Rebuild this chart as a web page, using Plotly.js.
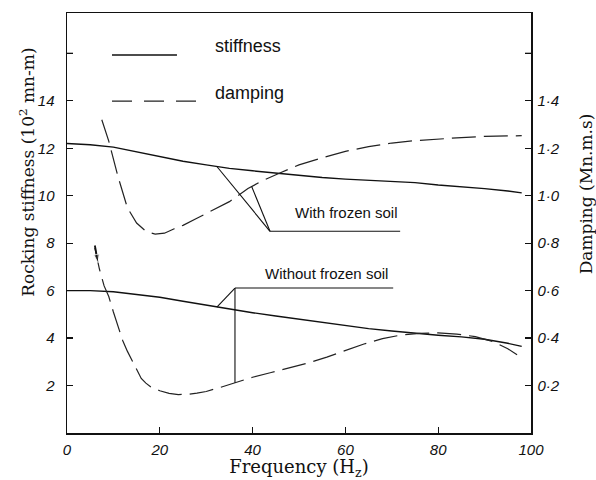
<!DOCTYPE html>
<html>
<head>
<meta charset="utf-8">
<script src="https://cdn.plot.ly/plotly-3.0.1.min.js"></script>
<style>
  html, body { margin: 0; padding: 0; background: #fff; }
  #chart { width: 596px; height: 480px; }
</style>
</head>
<body>
<div id="chart"></div>
<script>
// Rocking stiffness (10^2 MN·m) against frequency, sampled along each curve
const freqStiff = [0, 5, 10, 15, 20, 25, 30, 35, 40, 45, 50, 55, 60, 65, 70, 75, 80, 85, 90, 95, 98];
const stiffFrozen = [12.2, 12.15, 12.05, 11.85, 11.63, 11.45, 11.3, 11.15, 11.05, 10.95, 10.87, 10.77, 10.7, 10.65, 10.6, 10.55, 10.45, 10.38, 10.3, 10.2, 10.12];
const stiffUnfrozen = [6.0, 6.0, 5.95, 5.85, 5.72, 5.55, 5.38, 5.22, 5.07, 4.93, 4.8, 4.65, 4.52, 4.4, 4.3, 4.2, 4.12, 4.05, 3.95, 3.78, 3.65];

// Damping (MN·m·s) with frozen soil
const freqDampFrozen = [7.5, 9, 11, 13, 15, 17, 19, 21, 23, 25, 28, 31, 35, 39, 42, 46, 50, 55, 60, 65, 70, 75, 80, 85, 90, 95, 98];
const dampFrozen = [1.32, 1.23, 1.08, 0.95, 0.885, 0.85, 0.838, 0.842, 0.86, 0.875, 0.905, 0.935, 0.975, 1.03, 1.062, 1.097, 1.13, 1.16, 1.187, 1.207, 1.222, 1.232, 1.24, 1.245, 1.25, 1.252, 1.253];

// Damping (MN·m·s) without frozen soil
const freqDampUnfrozen = [6, 7, 8, 9, 10, 11, 12, 13, 14, 15, 16, 17, 18, 20, 22, 24, 26, 28, 30, 33, 36, 40, 44, 48, 52, 56, 60, 64, 68, 72, 76, 80, 84, 88, 92, 95, 97];
const dampUnfrozen = [0.78, 0.69, 0.62, 0.575, 0.51, 0.445, 0.39, 0.345, 0.305, 0.265, 0.23, 0.21, 0.195, 0.178, 0.167, 0.162, 0.163, 0.168, 0.175, 0.192, 0.21, 0.235, 0.255, 0.275, 0.295, 0.32, 0.348, 0.375, 0.398, 0.413, 0.42, 0.422, 0.417, 0.406, 0.384, 0.355, 0.33];

// Axis ticks; each y scale has one more, unlabeled tick above its last label
const freqTicks = [0, 20, 40, 60, 80, 100];
const stiffTicks = [2, 4, 6, 8, 10, 12, 14];
const stiffTopTick = 16;
const dampTicks = [0.2, 0.4, 0.6, 0.8, 1.0, 1.2, 1.4];
const dampTickText = ['0·2', '0·4', '0·6', '0·8', '1·0', '1·2', '1·4'];
const dampTopTick = 1.6;

// Series names and curve labels
const seriesNames = ['stiffness', 'damping'];
const groupLabels = ['With frozen soil', 'Without frozen soil'];

// Both y scales share one frame: stiffness 0..17.7, damping 0..1.77
const stiffRange = [0, 17.7];
const dampRange = [0, 1.77];
const dampToStiff = stiffRange[1] / dampRange[1];

function interp(xs, ys, x) {
  for (let i = 0; i < xs.length - 1; i++) {
    if (x >= xs[i] && x <= xs[i + 1]) {
      const t = (x - xs[i]) / (xs[i + 1] - xs[i]);
      return ys[i] + t * (ys[i + 1] - ys[i]);
    }
  }
  return x < xs[0] ? ys[0] : ys[ys.length - 1];
}

const ink = '#111';
const solid = { color: ink, width: 1.4 };
const dashed = { color: '#222', width: 1.2, dash: '24px,8px' };

// Short arrow marking the start of the damping curve without frozen soil
const arrowFrom = [6.0, 0.79];
const arrowTo = 6.7;

const traces = [
  { x: freqStiff, y: stiffFrozen, mode: 'lines', line: solid, yaxis: 'y', name: seriesNames[0], showlegend: false, hoverinfo: 'skip' },
  { x: freqStiff, y: stiffUnfrozen, mode: 'lines', line: solid, yaxis: 'y', name: seriesNames[0], showlegend: false, hoverinfo: 'skip' },
  { x: freqDampFrozen, y: dampFrozen, mode: 'lines', line: dashed, yaxis: 'y2', name: seriesNames[1], showlegend: false, hoverinfo: 'skip' },
  { x: freqDampUnfrozen, y: dampUnfrozen, mode: 'lines', line: dashed, yaxis: 'y2', name: seriesNames[1], showlegend: false, hoverinfo: 'skip' },
  { x: [arrowFrom[0], arrowTo], y: [arrowFrom[1], interp(freqDampUnfrozen, dampUnfrozen, arrowTo)], yaxis: 'y2',
    mode: 'lines+markers', line: { color: ink, width: 1.8 },
    marker: { symbol: 'arrow', angleref: 'previous', size: [0, 9], color: ink },
    showlegend: false, hoverinfo: 'skip' }
];

// Leader lines tying each label to its pair of curves
const frozenKnee = [43.75, 8.5];
const frozenLineEnd = 71.8;
const frozenStiffAt = 32.3;
const frozenDampAt = 39.8;
const unfrozenKnee = [36.2, 6.11];
const unfrozenLineEnd = 70.3;
const unfrozenStiffAt = 32.3;

const leader = { color: ink, width: 1.1 };
function seg(x0, y0, x1, y1) {
  return { type: 'line', xref: 'x', yref: 'y', x0, y0, x1, y1, line: leader };
}

// tick length as a fraction of the plot width (464 px)
const tickFrac = 6 / 464;
const tickLine = { color: ink, width: 1.3 };

const shapes = [
  seg(frozenKnee[0], frozenKnee[1], frozenLineEnd, frozenKnee[1]),
  seg(frozenKnee[0], frozenKnee[1], frozenStiffAt, interp(freqStiff, stiffFrozen, frozenStiffAt)),
  seg(frozenKnee[0], frozenKnee[1], frozenDampAt, interp(freqDampFrozen, dampFrozen, frozenDampAt) * dampToStiff),
  seg(unfrozenKnee[0], unfrozenKnee[1], unfrozenLineEnd, unfrozenKnee[1]),
  seg(unfrozenKnee[0], unfrozenKnee[1], unfrozenStiffAt, interp(freqStiff, stiffUnfrozen, unfrozenStiffAt)),
  seg(unfrozenKnee[0], unfrozenKnee[1], unfrozenKnee[0], interp(freqDampUnfrozen, dampUnfrozen, unfrozenKnee[0]) * dampToStiff),
  // unlabeled top ticks
  { type: 'line', xref: 'paper', yref: 'y', x0: 0, x1: tickFrac, y0: stiffTopTick, y1: stiffTopTick, line: tickLine },
  { type: 'line', xref: 'paper', yref: 'y2', x0: 1 - tickFrac, x1: 1, y0: dampTopTick, y1: dampTopTick, line: tickLine },
  // key samples
  { type: 'line', xref: 'paper', yref: 'paper', x0: 0.097, x1: 0.237, y0: 0.9, y1: 0.9, line: { color: ink, width: 1.3 } },
  { type: 'line', xref: 'paper', yref: 'paper', x0: 0.097, x1: 0.28, y0: 0.79, y1: 0.79, line: { color: '#222', width: 1.2, dash: '20px,12px' } }
];

const sans = 'Liberation Sans, Arial, sans-serif';
const serif = 'DejaVu Serif, serif';

const annotations = [
  { xref: 'paper', yref: 'paper', x: 0.315, y: 0.922, xanchor: 'left', yanchor: 'middle', text: seriesNames[0], showarrow: false, font: { family: sans, size: 18, color: ink } },
  { xref: 'paper', yref: 'paper', x: 0.315, y: 0.81, xanchor: 'left', yanchor: 'middle', text: seriesNames[1], showarrow: false, font: { family: sans, size: 18, color: ink } },
  { xref: 'x', yref: 'y', x: 60.3, y: 9.28, text: groupLabels[0], showarrow: false, font: { family: sans, size: 15, color: ink } },
  { xref: 'x', yref: 'y', x: 55.9, y: 6.72, text: groupLabels[1], showarrow: false, font: { family: sans, size: 15, color: ink } },
  // y-axis titles
  { xref: 'paper', yref: 'paper', x: -0.088, y: 0.62, xanchor: 'center', yanchor: 'middle', textangle: -90, showarrow: false,
    text: 'Rocking stiffness (10<sup>2</sup> mn-m)', font: { family: serif, size: 17, color: ink } },
  { xref: 'paper', yref: 'paper', x: 1.118, y: 0.57, xanchor: 'center', yanchor: 'middle', textangle: -90, showarrow: false,
    text: 'Damping (Mn.m.s)', font: { family: serif, size: 17, color: ink } }
];

const tickFont = { family: sans, size: 15, color: ink, style: 'italic' };

const layout = {
  width: 596,
  height: 480,
  margin: { l: 67, r: 65, t: 13, b: 47, pad: 0 },
  paper_bgcolor: '#fff',
  plot_bgcolor: '#fff',
  showlegend: false,
  xaxis: {
    range: [0, 100], tickvals: freqTicks, ticks: 'inside', ticklen: 6, tickwidth: 1.3, tickcolor: ink,
    showline: true, mirror: true, linecolor: ink, linewidth: 1.5, showgrid: false, zeroline: false,
    tickfont: tickFont, ticklabelstandoff: 2,
    title: { text: 'Frequency (H<sub>z</sub>)', font: { family: serif, size: 18, color: ink }, standoff: 6 }
  },
  yaxis: {
    range: stiffRange, tickvals: stiffTicks, ticks: 'inside', ticklen: 6, tickwidth: 1.3, tickcolor: ink,
    showline: true, linecolor: ink, linewidth: 1.5, showgrid: false, zeroline: false,
    tickfont: tickFont, ticklabelstandoff: 8
  },
  yaxis2: {
    range: dampRange, tickvals: dampTicks, ticktext: dampTickText, overlaying: 'y', side: 'right',
    ticks: 'inside', ticklen: 6, tickwidth: 1.3, tickcolor: ink,
    showline: true, linecolor: ink, linewidth: 1.5, showgrid: false, zeroline: false,
    tickfont: tickFont, ticklabelstandoff: 2
  },
  shapes: shapes,
  annotations: annotations
};

Plotly.newPlot('chart', traces, layout, { staticPlot: true, displayModeBar: false });
</script>
</body>
</html>
